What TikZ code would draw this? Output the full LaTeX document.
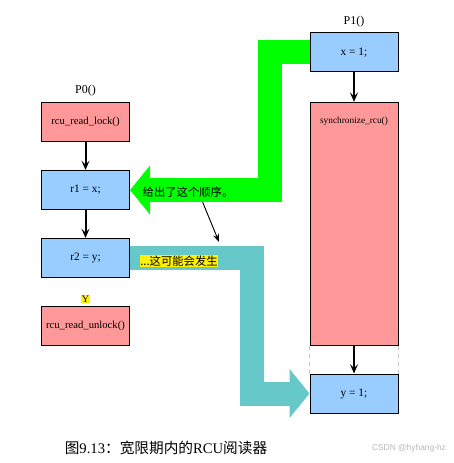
\documentclass[tikz,border=0pt]{standalone}
\usepackage{fontspec}
\setmainfont{Liberation Serif}
\setsansfont{Liberation Sans}
\newfontfamily\cjk{Noto Sans CJK SC}
\usepackage{tikz}
\usetikzlibrary{arrows.meta, positioning}

\definecolor{rcupink}{HTML}{FF9999}
\definecolor{codeblue}{HTML}{99CCFF}
\definecolor{greenband}{HTML}{00FF00}
\definecolor{tealband}{HTML}{66C8C8}

\begin{document}
\begin{tikzpicture}[
    % pixel grid of the reference, y running downwards
    x=0.75pt, y=-0.75pt,
    node distance=21pt,
    codebox/.style={
        rectangle, draw=black, line width=0.75pt, fill=codeblue,
        minimum width=66pt, minimum height=29.25pt, inner sep=2pt,
        font=\fontsize{8.5}{10}\selectfont
    },
    rcubox/.style={codebox, fill=rcupink, font=\fontsize{8}{9}\selectfont},
    title/.style={font=\fontsize{9}{10}\selectfont, inner sep=1pt},
    arrow/.style={-{Stealth[length=7pt, width=6pt, inset=3pt]}, line width=1.5pt},
    pointer/.style={-{Stealth[length=6pt, width=4.5pt]}, line width=0.7pt},
    band/.style={line width=18pt, line join=miter, -{Triangle[length=15pt, width=36pt]}},
    bandtext/.style={inner sep=0.5pt, font=\cjk\fontsize{8.5}{10}\selectfont}
]
  \fill[white] (0,0) rectangle (453,463);
  \useasboundingbox (0,0) rectangle (453,463);

  % Left column: reader P0
  \node[rcubox] (lock) at (85.5,122) {rcu\_read\_lock()};
  \node[codebox, below=of lock] (r1) {r1 = x;};
  \node[codebox, below=of r1] (r2) {r2 = y;};
  \node[rcubox, below=of r2] (unlock) {rcu\_read\_unlock()};
  \node[title, above=3pt of lock] (p0) {P0()};
  \node[title, fill=yellow, inner sep=0.5pt, font=\fontsize{7.5}{8}\selectfont, above=2pt of unlock] (ymark) {Y};

  % Right column: updater P1
  \node[codebox] (x1) at (354,52.5) {x = 1;};
  \node[rcubox, below=22pt of x1, minimum height=182pt] (sync) {};
  \node[inner sep=1pt, font=\fontsize{7}{8}\selectfont, below=10pt of sync.north] (synctext) {synchronize\_rcu()};
  \node[codebox, below=of sync] (y1) {y = 1;};
  \node[title, above=3pt of x1] (p1) {P1()};

  % Program order
  \draw[arrow] (lock) -- (r1);
  \draw[arrow] (r1) -- (r2);
  \draw[arrow] (x1) -- (sync);
  \draw[arrow, line width=1pt] (sync) -- (y1);
  \draw[dashed, gray!45, line width=0.5pt] (sync.south west) -- (y1.north west);
  \draw[dashed, gray!45, line width=0.5pt] (sync.south east) -- (y1.north east);

  % Wide flow arrows
  \draw[band, draw=greenband] (x1.west) -- ++(-40,0) |- (r1.east);
  \draw[band, draw=tealband] (r2.east) -- ++(122,0) |- (y1.west);

  \node[bandtext] (order) at (188,192) {给出了这个顺序。};
  \node[bandtext, fill=yellow] (happen) at (179,261) {...这可能会发生};
  \coordinate (hit) at (219,242);
  \draw[pointer] ([xshift=11pt, yshift=-3pt]order.south) -- (hit);

  % Caption
  \node[font=\fontsize{11}{13}\selectfont] (caption) at (166,448) {{\cjk 图}9.13{\cjk ：宽限期内的}RCU{\cjk 阅读器}};
  \node[font=\sffamily\fontsize{6.3}{7}\selectfont, text=gray!55] (mark) at (409,448) {CSDN @hyhang-hz};
\end{tikzpicture}
\end{document}
